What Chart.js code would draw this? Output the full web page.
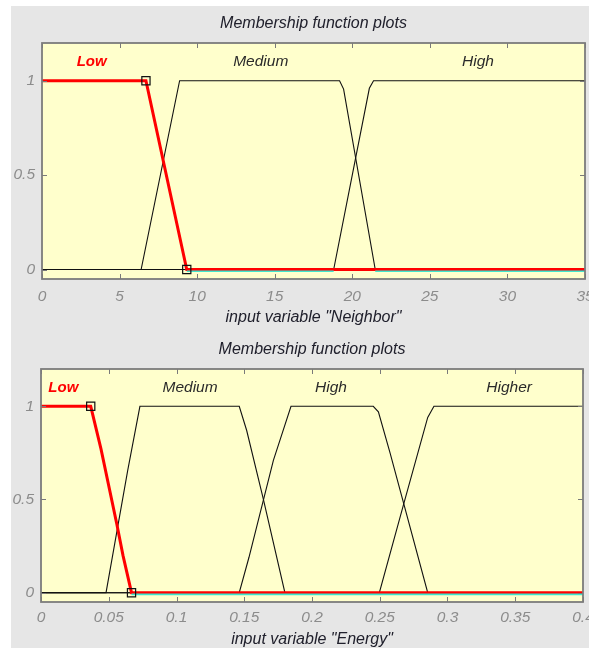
<!DOCTYPE html>
<html>
<head>
<meta charset="utf-8">
<script src="https://cdn.jsdelivr.net/npm/chart.js@4.4.1/dist/chart.umd.min.js"></script>
<style>
  html, body { margin: 0; padding: 0; background: #ffffff; width: 589px; height: 648px; overflow: hidden; }
  #fig { position: absolute; left: 11px; top: 6px; width: 578px; height: 642px; background: #e6e6e6; }
  canvas { position: absolute; left: 0; }
  #c1 { top: 0; }
  #c2 { top: 325px; }
</style>
</head>
<body>
<div id="fig"></div>
<canvas id="c1" width="589" height="325"></canvas>
<canvas id="c2" width="589" height="323"></canvas>
<script>
// ---------- Data ----------
const plotTitle = "Membership function plots";

// Plot 1: input variable "Neighbor"
const nbAxisLabel = 'input variable "Neighbor"';
const nbXTicks = [0, 5, 10, 15, 20, 25, 30, 35];
const nbXTickLabels = ["0", "5", "10", "15", "20", "25", "30", "35"];
const nbLowX = [0, 6.7, 9.33, 35];
const nbLowY = [1, 1, 0, 0];
const nbMediumX = [0, 6.39, 8.87, 19.18, 19.44, 21.48, 35];
const nbMediumY = [0, 0, 1, 1, 0.956, 0, 0];
const nbHighX = [0, 18.8, 21.1, 21.37, 35];
const nbHighY = [0, 0, 0.96, 1, 1];
const nbHandlesX = [6.7, 9.33];
const nbHandlesY = [1, 0];
const nbCyanX = [9.33, 18.8, null, 21.48, 35];
const nbCyanY = [-0.009, -0.009, null, -0.009, -0.009];
const nbMfNames = ["Low", "Medium", "High"];
const nbMfLabelX = [3.2, 14.1, 28.1];

// Plot 2: input variable "Energy"
const enAxisLabel = 'input variable "Energy"';
const enXTicks = [0, 0.05, 0.1, 0.15, 0.2, 0.25, 0.3, 0.35, 0.4];
const enXTickLabels = ["0", "0.05", "0.1", "0.15", "0.2", "0.25", "0.3", "0.35", "0.4"];
const enLowX = [0, 0.0367, 0.0443, 0.0559, 0.0605, 0.0668, 0.4];
const enLowY = [1, 1, 0.77, 0.37, 0.2, 0, 0];
const enMediumX = [0, 0.048, 0.064, 0.073, 0.1463, 0.1518, 0.164, 0.180, 0.4];
const enMediumY = [0, 0, 0.656, 1, 1, 0.87, 0.504, 0, 0];
const enHighX = [0, 0.1463, 0.1535, 0.1715, 0.1845, 0.2452, 0.249, 0.2576, 0.2854, 0.4];
const enHighY = [0, 0, 0.19, 0.71, 1, 1, 0.97, 0.75, 0, 0];
const enHigherX = [0, 0.2497, 0.268, 0.2854, 0.29, 0.4];
const enHigherY = [0, 0, 0.485, 0.94, 1, 1];
const enHandlesX = [0.0367, 0.0668];
const enHandlesY = [1, 0];
const enCyanX = [0.0668, 0.4];
const enCyanY = [-0.009, -0.009];
const enMfNames = ["Low", "Medium", "High", "Higher"];
const enMfLabelX = [0.0165, 0.110, 0.214, 0.3455];

// Shared y axis
const yTicks = [0, 0.5, 1];
const yTickLabels = ["0", "0.5", "1"];
const yMin = -0.05, yMax = 1.2;
const mfLabelY = 1.1;

// ---------- Helpers ----------
const FONT = "'Liberation Sans', Arial, sans-serif";
function pts(xs, ys) { return xs.map((x, i) => ({ x: x, y: ys[i] })); }

function mfPlot(canvasId, cfg) {
  const black = { type: 'scatter', showLine: true, borderColor: '#111111', borderWidth: 1.1,
                  pointRadius: 0, tension: 0, fill: false };
  const datasets = [];
  // first dataset is drawn on top
  datasets.push({ type: 'scatter', data: pts(cfg.handlesX, cfg.handlesY), showLine: false,
                  pointStyle: 'rect', pointRadius: 5.8, pointHoverRadius: 5.8,
                  pointBorderColor: '#111111', pointBackgroundColor: 'rgba(0,0,0,0)', pointBorderWidth: 1.2,
                  clip: 10 });
  datasets.push({ type: 'scatter', data: pts(cfg.cyanX, cfg.cyanY), showLine: true, spanGaps: false,
                  borderColor: '#3fe6cf', borderWidth: 1.6, pointRadius: 0, tension: 0 });
  datasets.push({ type: 'scatter', data: pts(cfg.lowX, cfg.lowY), showLine: true,
                  borderColor: '#ff0000', borderWidth: 3, pointRadius: 0, tension: 0 });
  cfg.mfs.forEach(m => datasets.push(Object.assign({}, black, { data: pts(m[0], m[1]) })));

  const L = cfg.area;
  const decor = {
    id: 'decor',
    beforeDatasetsDraw(chart) {
      const a = chart.chartArea, c = chart.ctx;
      c.save();
      c.fillStyle = '#ffffcc';
      c.fillRect(a.left, a.top, a.right - a.left, a.bottom - a.top);
      c.restore();
    },
    afterDatasetsDraw(chart) {
      const a = chart.chartArea, c = chart.ctx;
      const xs = chart.scales.x, ys = chart.scales.y;
      c.save();
      // inward ticks
      c.strokeStyle = '#7a7a7a';
      c.lineWidth = 1;
      cfg.xTicks.forEach(v => {
        const px = Math.round(xs.getPixelForValue(v)) + 0.5;
        c.beginPath();
        c.moveTo(px, a.bottom); c.lineTo(px, a.bottom - 5);
        c.moveTo(px, a.top); c.lineTo(px, a.top + 5);
        c.stroke();
      });
      yTicks.forEach(v => {
        const py = Math.round(ys.getPixelForValue(v)) + 0.5;
        c.beginPath();
        c.moveTo(a.left, py); c.lineTo(a.left + 5, py);
        c.moveTo(a.right, py); c.lineTo(a.right - 5, py);
        c.stroke();
      });
      // border
      c.strokeStyle = '#7c7c7c';
      c.lineWidth = 1.8;
      c.strokeRect(a.left, a.top, a.right - a.left, a.bottom - a.top);
      // MF labels
      c.textAlign = 'center';
      c.textBaseline = 'middle';
      cfg.names.forEach((n, i) => {
        const px = xs.getPixelForValue(cfg.labelX[i]);
        const py = ys.getPixelForValue(mfLabelY);
        if (i === 0) { c.fillStyle = '#ff0000'; c.font = 'italic bold 15px ' + FONT; }
        else { c.fillStyle = '#2a2a2a'; c.font = 'italic 15.5px ' + FONT; }
        c.fillText(n, px, py);
      });
      // titles
      const cx = (a.left + a.right) / 2;
      c.fillStyle = '#20202c';
      c.font = 'italic 16px ' + FONT;
      c.fillText(plotTitle, cx, cfg.titleY);
      c.fillText(cfg.axisLabel, cx, cfg.xlabelY);
      c.restore();
    }
  };

  return new Chart(document.getElementById(canvasId), {
    type: 'scatter',
    data: { datasets: datasets },
    options: {
      responsive: false, animation: false, devicePixelRatio: 1,
      layout: { autoPadding: false, padding: { top: L.top, right: L.right, left: 0, bottom: 0 } },
      plugins: { legend: { display: false }, tooltip: { enabled: false }, title: { display: false } },
      events: [],
      scales: {
        x: {
          type: 'linear', position: 'bottom', min: cfg.xTicks[0], max: cfg.xTicks[cfg.xTicks.length - 1],
          grid: { display: false, drawTicks: false }, border: { display: false },
          afterBuildTicks: s => { s.ticks = cfg.xTicks.map(v => ({ value: v })); },
          afterFit: s => { s.height = L.xh; s.paddingLeft = 0; s.paddingRight = 0; },
          ticks: { autoSkip: false, maxRotation: 0, padding: L.xpad, color: '#8c8c8c',
                   font: { family: FONT, size: 15.5, style: 'italic' },
                   callback: (v, i) => cfg.xLabels[i] }
        },
        y: {
          type: 'linear', position: 'left', min: yMin, max: yMax,
          grid: { display: false, drawTicks: false }, border: { display: false },
          afterBuildTicks: s => { s.ticks = yTicks.map(v => ({ value: v })); },
          afterFit: s => { s.width = L.left; s.paddingTop = 0; s.paddingBottom = 0; },
          ticks: { autoSkip: false, padding: 7, color: '#8c8c8c',
                   font: { family: FONT, size: 15.5, style: 'italic' },
                   callback: (v, i) => yTickLabels[i] }
        }
      }
    },
    plugins: [decor]
  });
}

mfPlot('c1', {
  xTicks: nbXTicks, xLabels: nbXTickLabels,
  lowX: nbLowX, lowY: nbLowY,
  mfs: [[nbMediumX, nbMediumY], [nbHighX, nbHighY]],
  handlesX: nbHandlesX, handlesY: nbHandlesY,
  cyanX: nbCyanX, cyanY: nbCyanY,
  names: nbMfNames, labelX: nbMfLabelX,
  axisLabel: nbAxisLabel, titleY: 24, xlabelY: 318,
  area: { top: 43, right: 4, left: 42, xh: 46, xpad: 8 }
});

mfPlot('c2', {
  xTicks: enXTicks, xLabels: enXTickLabels,
  lowX: enLowX, lowY: enLowY,
  mfs: [[enMediumX, enMediumY], [enHighX, enHighY], [enHigherX, enHigherY]],
  handlesX: enHandlesX, handlesY: enHandlesY,
  cyanX: enCyanX, cyanY: enCyanY,
  names: enMfNames, labelX: enMfLabelX,
  axisLabel: enAxisLabel, titleY: 25, xlabelY: 315,
  area: { top: 44, right: 6, left: 41, xh: 46, xpad: 6 }
});
</script>
</body>
</html>
